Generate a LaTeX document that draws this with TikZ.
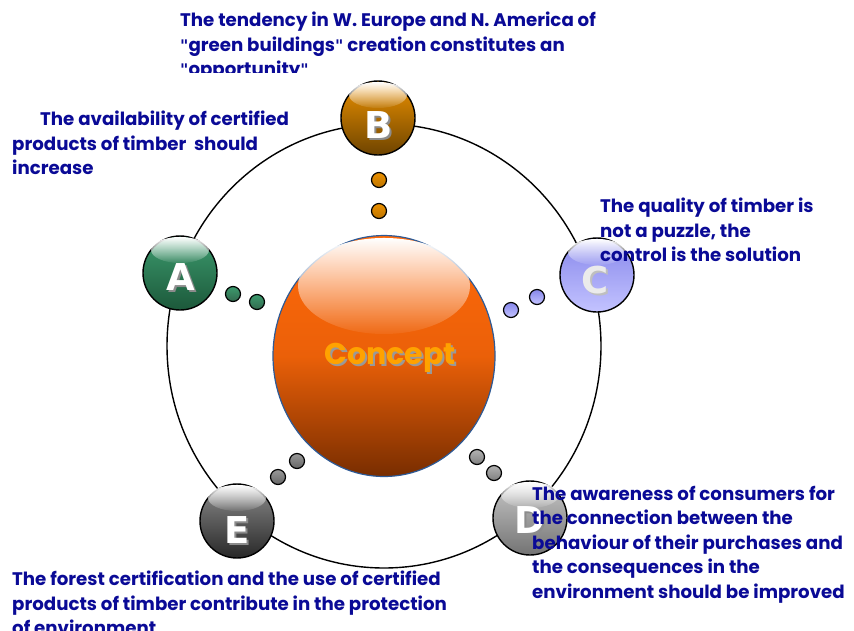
\documentclass[tikz,border=0pt]{standalone}
\usepackage{fontspec}
\setmainfont{Poppins}
\newfontfamily\letterfont{DejaVu Sans}
\newcommand{\dq}{{\letterfont\fontsize{16}{16}\selectfont"}}
\usetikzlibrary{fadings,shapes.geometric,calc}
\definecolor{txtblue}{RGB}{10,10,150}
\definecolor{borderblue}{RGB}{45,90,150}
\definecolor{conTop}{RGB}{255,105,10}
\definecolor{conBot}{RGB}{120,45,0}
\definecolor{conTxt}{RGB}{255,162,0}
\definecolor{bTop}{RGB}{236,145,0}
\definecolor{bBot}{RGB}{110,68,0}
\definecolor{aTop}{RGB}{60,155,110}
\definecolor{aBot}{RGB}{28,88,58}
\definecolor{cTop}{RGB}{135,135,235}
\definecolor{cBot}{RGB}{195,195,255}
\definecolor{dTop}{RGB}{200,200,200}
\definecolor{dBot}{RGB}{115,115,115}
\definecolor{eTop}{RGB}{140,140,140}
\definecolor{eBot}{RGB}{40,40,40}
\tikzfading[name=glossfade, top color=transparent!0, bottom color=transparent!95]
\tikzset{
  ball/.style={circle, draw=black, line width=1.4pt, minimum size=74pt, inner sep=0pt},
  dotball/.style={circle, draw=black, line width=1.2pt, minimum size=15pt, inner sep=0pt},
  letter/.style={text=white, font=\letterfont\bfseries\fontsize{37}{37}\selectfont, inner sep=0pt},
  lshadow/.style={text=black!45, font=\letterfont\bfseries\fontsize{37}{37}\selectfont, inner sep=0pt},
  desc/.style={anchor=north west, inner sep=0pt, align=left, text=txtblue,
    font=\bfseries\fontsize{18.2}{24.5}\selectfont},
}
\newcommand{\gloss}[1]{\fill[white, path fading=glossfade] ($(#1)+(0,-23)$) ellipse [x radius=29pt, y radius=13pt];}
\begin{document}
\begin{tikzpicture}[x=1pt,y=-1pt]
\useasboundingbox (0,0) rectangle (854,630);
% ring
\node[ellipse, draw=black, line width=1.4pt, minimum width=434pt, minimum height=444pt, inner sep=0pt] (ring) at (384,346) {};
% dots
\node[dotball, top color=bTop, bottom color=bTop!80!black] (b1) at (379,180) {};
\node[dotball, top color=bTop, bottom color=bTop!80!black] (b2) at (379,211) {};
\node[dotball, top color=aTop, bottom color=aBot!90] (a1) at (233,294) {};
\node[dotball, top color=aTop, bottom color=aBot!90] (a2) at (257,302) {};
\node[dotball, top color=cTop, bottom color=cBot] (c1) at (537,297) {};
\node[dotball, top color=cTop, bottom color=cBot] (c2) at (511,310) {};
\node[dotball, top color=black!30, bottom color=black!50] (d1) at (477,457) {};
\node[dotball, top color=black!30, bottom color=black!50] (d2) at (494,473) {};
\node[dotball, top color=black!40, bottom color=black!60] (e1) at (297,461) {};
\node[dotball, top color=black!40, bottom color=black!60] (e2) at (278,477) {};
% concept
\node[ellipse, draw=borderblue, line width=1.2pt, minimum width=222pt, minimum height=241pt, inner sep=0pt,
  top color=conTop, bottom color=conBot, middle color=conTop!85!conBot] (concept) at (384,356) {};
\fill[white, path fading=glossfade] (384,286) ellipse [x radius=86pt, y radius=48pt];
\node[text=black!40, font=\bfseries\fontsize{30}{30}\selectfont, inner sep=0pt] (consh) at (392,360) {Concept};
\node[text=conTxt, font=\bfseries\fontsize{30}{30}\selectfont, inner sep=0pt] (contxt) at (390,358) {Concept};
% balls
\node[ball, top color=bTop, bottom color=bBot] (B) at (378,118) {};
\gloss{B}
\node[lshadow] (Bs) at (381,127) {B};
\node[letter] (Bl) at (379,125) {B};
\node[ball, top color=aTop, bottom color=aBot] (A) at (180,273) {};
\gloss{A}
\node[lshadow] (As) at (183,279) {A};
\node[letter] (Al) at (181,277) {A};
\node[ball, top color=cTop, bottom color=cBot] (C) at (597,275) {};
\gloss{C}
\node[lshadow, text=black!25] (Cs) at (597,282) {C};
\node[letter, text=white!92!black] (Cl) at (595,280) {C};
\node[ball, top color=dTop, bottom color=dBot] (D) at (530,518) {};
\gloss{D}
\node[lshadow] (Ds) at (532,522) {D};
\node[letter] (Dl) at (530,520) {D};
\node[ball, top color=eTop, bottom color=eBot] (E) at (237,521) {};
\gloss{E}
\node[lshadow] (Es) at (239,532) {E};
\node[letter] (El) at (237,530) {E};
% texts
\begin{scope}
\clip (0,0) rectangle (854,72);
\node[desc] (tB) at (180,12) {The tendency in W. Europe and N. America of\\
\dq green buildings\dq{} creation constitutes an\\
\dq opportunity\dq};
\end{scope}
\node[desc] (tA) at (12,111) {\hspace*{28pt}The availability of certified\\
products of timber\ \ should\\
increase};
\node[desc] (tC) at (600,198) {The quality of timber is\\
not a puzzle, the\\
control is the solution};
\node[desc] (tD) at (532,486) {The awareness of consumers for\\
the connection between the\\
behaviour of their purchases and\\
the consequences in the\\
environment should be improved};
\node[desc] (tE) at (12,571) {The forest certification and the use of certified\\
products of timber contribute in the protection\\
of environment};
\end{tikzpicture}
\end{document}
